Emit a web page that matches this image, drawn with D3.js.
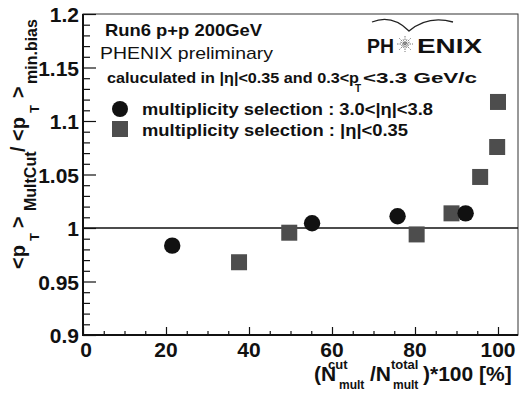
<!DOCTYPE html>
<html>
<head>
<meta charset="utf-8">
<script src="https://cdn.jsdelivr.net/npm/d3@7"></script>
<style>
  body { margin: 0; background: #fff; }
  text { font-family: "Liberation Sans", Arial, Helvetica, sans-serif; fill: #111; }
</style>
</head>
<body>
<svg width="520" height="393"></svg>
<script>
// data
var circleX = [21.5, 55.2, 75.8, 92.2];          // multiplicity selection 3.0<|eta|<3.8
var circleY = [0.9835, 1.0044, 1.011, 1.0137];
var squareX = [37.6, 49.7, 80.4, 88.8, 95.7, 99.8, 100.0];   // multiplicity selection |eta|<0.35
var squareY = [0.968, 0.9956, 0.994, 1.0137, 1.0477, 1.0757, 1.1178];
var xTicks = [0, 20, 40, 60, 80, 100];
var yTicks = [0.9, 0.95, 1.0, 1.05, 1.1, 1.15, 1.2];
var yTickLabels = ["0.9", "0.95", "1", "1.05", "1.1", "1.15", "1.2"];
var legendLabels = ["multiplicity selection : 3.0<|η|<3.8", "multiplicity selection : |η|<0.35"];

var svg = d3.select("svg");
var padL = 83, padR = 518, padT = 14, padB = 335;

var x = d3.scaleLinear().domain([0, 104.82]).range([padL, padR]);
var y = d3.scaleLinear().domain([0.9, 1.2]).range([padB, padT]);

// frame
svg.append("rect")
    .attr("x", padL).attr("y", padT)
    .attr("width", padR - padL).attr("height", padB - padT)
    .attr("fill", "none").attr("stroke", "#333").attr("stroke-width", 1);

// reference line at 1
svg.append("line")
    .attr("x1", padL).attr("x2", padR)
    .attr("y1", y(1)).attr("y2", y(1))
    .attr("stroke", "#111").attr("stroke-width", 1.3);

// y axis, ticks pointing inward
var yAxis = d3.axisRight(y).tickValues(d3.range(0, 31).map(function(i) { return 0.9 + i * 0.01; }))
    .tickSize(7).tickFormat("");
var gy = svg.append("g").attr("transform", "translate(" + padL + ",0)").call(yAxis);
gy.selectAll(".tick line")
    .attr("x2", function(d, i) { return i % 5 === 0 ? 13 : 7; });
gy.select(".domain").remove();

var xAxis = d3.axisTop(x).tickValues(d3.range(0, 105, 5)).tickSize(4).tickFormat("");
var gx = svg.append("g").attr("transform", "translate(0," + padB + ")").call(xAxis);
gx.selectAll(".tick line")
    .attr("y2", function(d) { return d % 20 === 0 ? -8 : -4; });
gx.select(".domain").remove();
svg.selectAll(".tick line").attr("stroke", "#111").attr("stroke-width", 1.2);

// axis lines
svg.append("line").attr("x1", padL).attr("x2", padL).attr("y1", padT).attr("y2", padB + 1)
    .attr("stroke", "#111").attr("stroke-width", 2);
svg.append("line").attr("x1", padL - 1).attr("x2", padR).attr("y1", padB).attr("y2", padB)
    .attr("stroke", "#111").attr("stroke-width", 2);

// tick labels
svg.selectAll(".ylab")
    .data(yTicks)
    .enter().append("text")
    .attr("class", "ylab")
    .attr("x", 79)
    .attr("y", function(d) { return y(d) + 8; })
    .attr("text-anchor", "end")
    .attr("font-size", 21).attr("font-weight", "bold")
    .text(function(d, i) { return yTickLabels[i]; });

svg.selectAll(".xlab")
    .data(xTicks)
    .enter().append("text")
    .attr("class", "xlab")
    .attr("x", function(d) { return x(d) + (d === 0 ? 3 : 0); })
    .attr("y", 357)
    .attr("text-anchor", "middle")
    .attr("font-size", 21).attr("font-weight", "bold")
    .text(function(d) { return d; });

// markers
var squares = squareX.map(function(v, i) { return {x: v, y: squareY[i]}; });
var circles = circleX.map(function(v, i) { return {x: v, y: circleY[i]}; });
var sq = 16;

svg.selectAll(".sq")
    .data(squares)
    .enter().append("rect")
    .attr("class", "sq")
    .attr("x", function(d) { return x(d.x) - sq / 2; })
    .attr("y", function(d) { return y(d.y) - sq / 2; })
    .attr("width", sq).attr("height", sq)
    .attr("fill", "#4d4d4d");

svg.selectAll(".ci")
    .data(circles)
    .enter().append("circle")
    .attr("class", "ci")
    .attr("cx", function(d) { return x(d.x); })
    .attr("cy", function(d) { return y(d.y); })
    .attr("r", 8.2)
    .attr("fill", "#111");

// legend
svg.append("circle").attr("cx", 120).attr("cy", 109).attr("r", 8).attr("fill", "#111");
svg.append("rect").attr("x", 112).attr("y", 121).attr("width", 16).attr("height", 16).attr("fill", "#4d4d4d");
svg.append("text").attr("x", 142).attr("y", 115).attr("font-size", 16).attr("font-weight", "bold")
    .attr("textLength", 291).attr("lengthAdjust", "spacingAndGlyphs").text(legendLabels[0]);
svg.append("text").attr("x", 142).attr("y", 136).attr("font-size", 16).attr("font-weight", "bold")
    .attr("textLength", 266).attr("lengthAdjust", "spacingAndGlyphs").text(legendLabels[1]);

// header texts
svg.append("text").attr("x", 105).attr("y", 36).attr("font-size", 17).attr("font-weight", "bold")
    .attr("textLength", 157).attr("lengthAdjust", "spacingAndGlyphs").text("Run6 p+p 200GeV");
svg.append("text").attr("x", 100).attr("y", 59).attr("font-size", 17)
    .attr("textLength", 173).attr("lengthAdjust", "spacingAndGlyphs").text("PHENIX preliminary");
svg.append("text").attr("x", 107).attr("y", 83).attr("font-size", 15).attr("font-weight", "bold")
    .attr("textLength", 252).attr("lengthAdjust", "spacingAndGlyphs").text("caluculated in |η|<0.35 and 0.3<p");
svg.append("text").attr("x", 355).attr("y", 92).attr("font-size", 10).attr("font-weight", "bold").text("T");
svg.append("text").attr("x", 363).attr("y", 83).attr("font-size", 15).attr("font-weight", "bold")
    .attr("textLength", 114).attr("lengthAdjust", "spacingAndGlyphs").text("<3.3 GeV/c");

// PHENIX logo
var logo = svg.append("g");
logo.append("path")
    .attr("d", "M372,22 Q392,14 409,31 Q428,15 453,22")
    .attr("fill", "none").attr("stroke", "#222").attr("stroke-width", 1.3);
logo.append("text").attr("x", 367).attr("y", 53).attr("font-size", 21).attr("font-weight", "bold")
    .attr("textLength", 27).attr("lengthAdjust", "spacingAndGlyphs").text("PH");
logo.append("text").attr("x", 417).attr("y", 53).attr("font-size", 21).attr("font-weight", "bold")
    .attr("textLength", 65).attr("lengthAdjust", "spacingAndGlyphs").text("ENIX");
d3.range(0, 180, 22.5).forEach(function(a) {
    var r = a * Math.PI / 180, len = a % 45 === 0 ? 8 : 5;
    logo.append("line")
        .attr("x1", 405 - len * Math.cos(r)).attr("y1", 44 - len * Math.sin(r))
        .attr("x2", 405 + len * Math.cos(r)).attr("y2", 44 + len * Math.sin(r))
        .attr("stroke", "#777").attr("stroke-width", 1).attr("stroke-dasharray", "1.5,1");
});

// y axis title (rotated)
var yt = svg.append("text").attr("transform", "rotate(-90)").attr("font-weight", "bold");
function ypart(txt, sy, bx, size) {
    yt.append("tspan").attr("x", -sy).attr("y", bx).attr("font-size", size).text(txt);
}
ypart("<p", 269, 25, 20);
ypart("T", 241, 39, 13);
ypart(">", 228, 25, 20);
ypart("MultCut", 211, 36, 16);
ypart("/", 152, 25, 20);
ypart("<p", 141, 25, 20);
ypart("T", 113, 39, 13);
ypart(">", 98, 25, 20);
ypart("min.bias", 84, 37, 16);

// x axis title
var xt = svg.append("text").attr("font-weight", "bold");
function xpart(txt, sx, by, size) {
    xt.append("tspan").attr("x", sx).attr("y", by).attr("font-size", size).text(txt);
}
xpart("(N", 314, 381, 21);
xpart("cut", 328, 369, 13);
xpart("mult", 339, 389, 12);
xpart("/N", 370, 381, 21);
xpart("total", 391, 369, 13);
xpart("mult", 393, 389, 12);
xpart(")*100 [%]", 423, 381, 21);
</script>
</body>
</html>
